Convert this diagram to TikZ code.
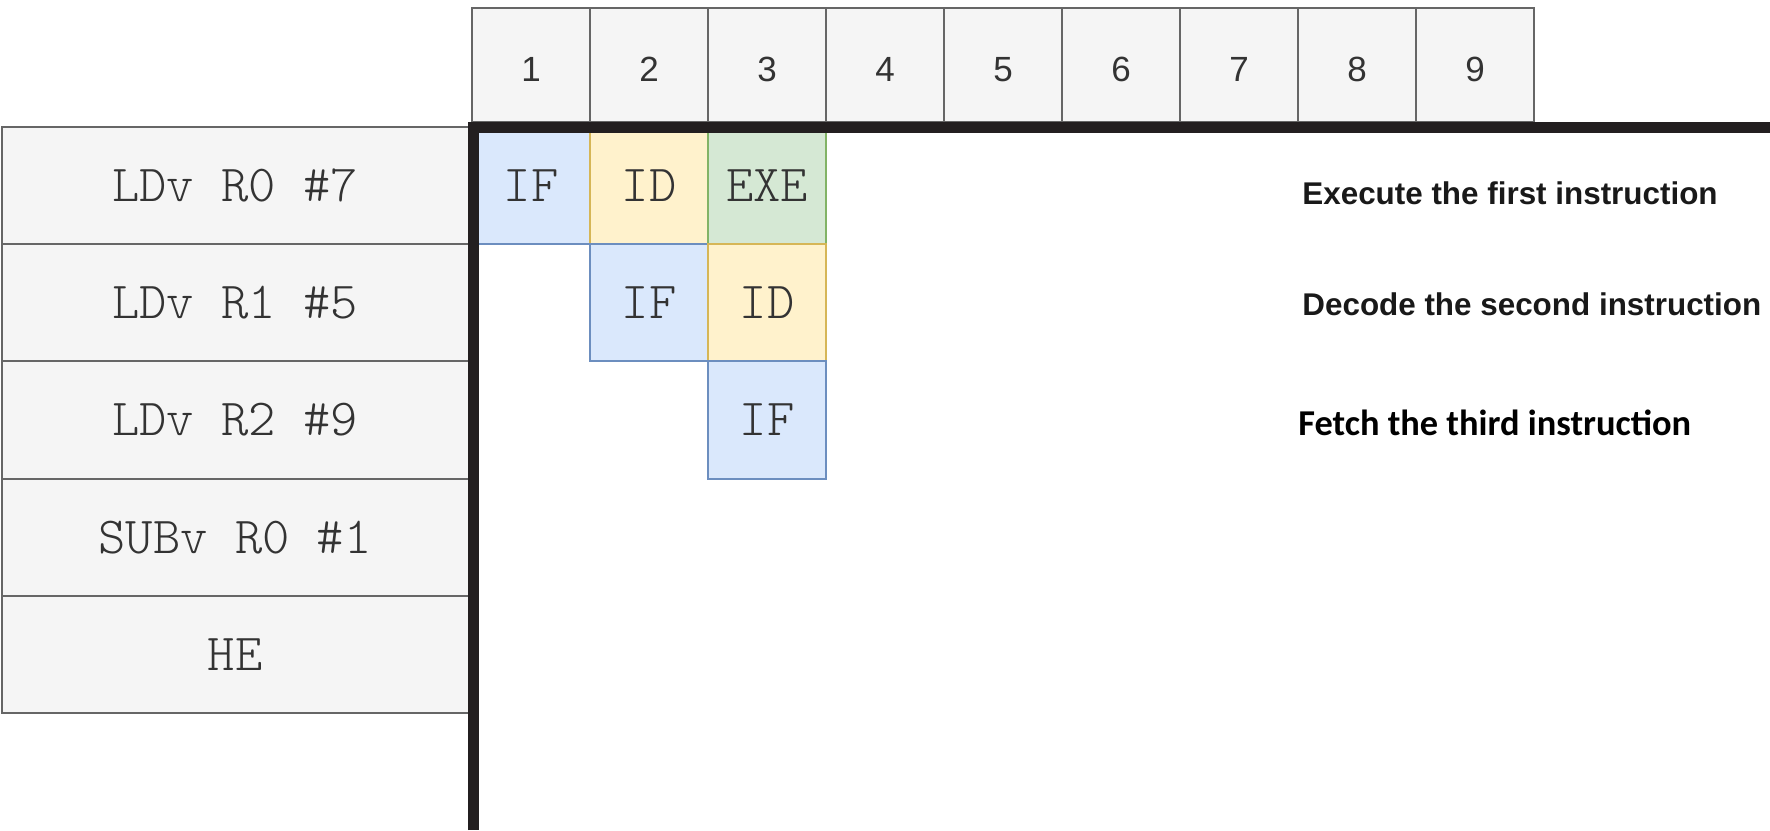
\documentclass[tikz,border=0pt]{standalone}
\usepackage{fontspec}
\setmainfont{Liberation Sans}
\newfontfamily\codefont{Latin Modern Mono Light}
\newfontfamily\notefont{Carlito}
\usepackage{xcolor}
\usetikzlibrary{positioning}

\definecolor{boxgray}{HTML}{F5F5F5}
\definecolor{linegray}{HTML}{666666}
\definecolor{textgray}{HTML}{333333}
\definecolor{ifblue}{HTML}{DAE8FC}
\definecolor{ifline}{HTML}{6C8EBF}
\definecolor{idyellow}{HTML}{FFF2CC}
\definecolor{idline}{HTML}{D6B656}
\definecolor{exgreen}{HTML}{D5E8D4}
\definecolor{exline}{HTML}{82B366}
\definecolor{axisblack}{HTML}{231F20}

\begin{document}
\begin{tikzpicture}[
    x=1pt, y=1pt,
    cyclebox/.style={draw=linegray, fill=boxgray, line width=1pt, outer sep=0pt, inner sep=0pt,
                minimum width=59pt, minimum height=57pt, text height=17pt, text depth=0pt,
                font=\fontsize{17.5}{20}\selectfont, text=textgray},
    instrbox/.style={draw=linegray, fill=boxgray, line width=1pt, outer sep=0pt, inner sep=0pt,
                minimum width=233.5pt, minimum height=58.6pt,
                font=\codefont\fontsize{26}{30}\selectfont, text=textgray},
    stage/.style={line width=1pt, outer sep=0pt, inner sep=0pt,
                minimum width=59pt, minimum height=58.6pt,
                font=\codefont\fontsize{26}{30}\selectfont, text=textgray},
    ifstage/.style={stage, draw=ifline, fill=ifblue},
    idstage/.style={stage, draw=idline, fill=idyellow},
    exstage/.style={stage, draw=exline, fill=exgreen},
    note/.style={anchor=base west, inner sep=0pt, font=\bfseries\fontsize{15.7}{18}\selectfont, text=black!90},
    axis/.style={line width=5.5pt, draw=axisblack}
]
\useasboundingbox (0,0) rectangle (885,415);
% clock cycles
\node[cyclebox] (h1) at (265.5,382.5) {1};
\foreach \i [remember=\i as \last (initially 1)] in {2,...,9} {
    \node[cyclebox, right=0pt of h\last] (h\i) {\i};
}
% instructions
\node[instrbox] (i1) at (117.5,322.2) {LDv R0 \#7};
\node[instrbox, below=0pt of i1] (i2) {LDv R1 \#5};
\node[instrbox, below=0pt of i2] (i3) {LDv R2 \#9};
\node[instrbox, below=0pt of i3] (i4) {SUBv R0 \#1};
\node[instrbox, below=0pt of i4] (i5) {HE};
% pipeline stages
\node[ifstage] (if1) at (h1 |- i1) {IF};
\node[idstage] (id1) at (h2 |- i1) {ID};
\node[exstage] (ex1) at (h3 |- i1) {EXE};
\node[ifstage] (if2) at (h2 |- i2) {IF};
\node[idstage] (id2) at (h3 |- i2) {ID};
\node[ifstage] (if3) at (h3 |- i3) {IF};
% axes
\coordinate (ybot) at (236.5,0);
\coordinate (xend) at (885,351.4);
\draw[axis] (ybot) |- (xend);
% notes
\node[note] (n1) at (651,312.5) {Execute the first instruction};
\node[note] (n2) at (651,257) {Decode the second instruction};
\node[note, font=\notefont\bfseries\fontsize{18.2}{20}\selectfont, text=black] (n3) at (649,197) {Fetch the third instruction};
\end{tikzpicture}
\end{document}
